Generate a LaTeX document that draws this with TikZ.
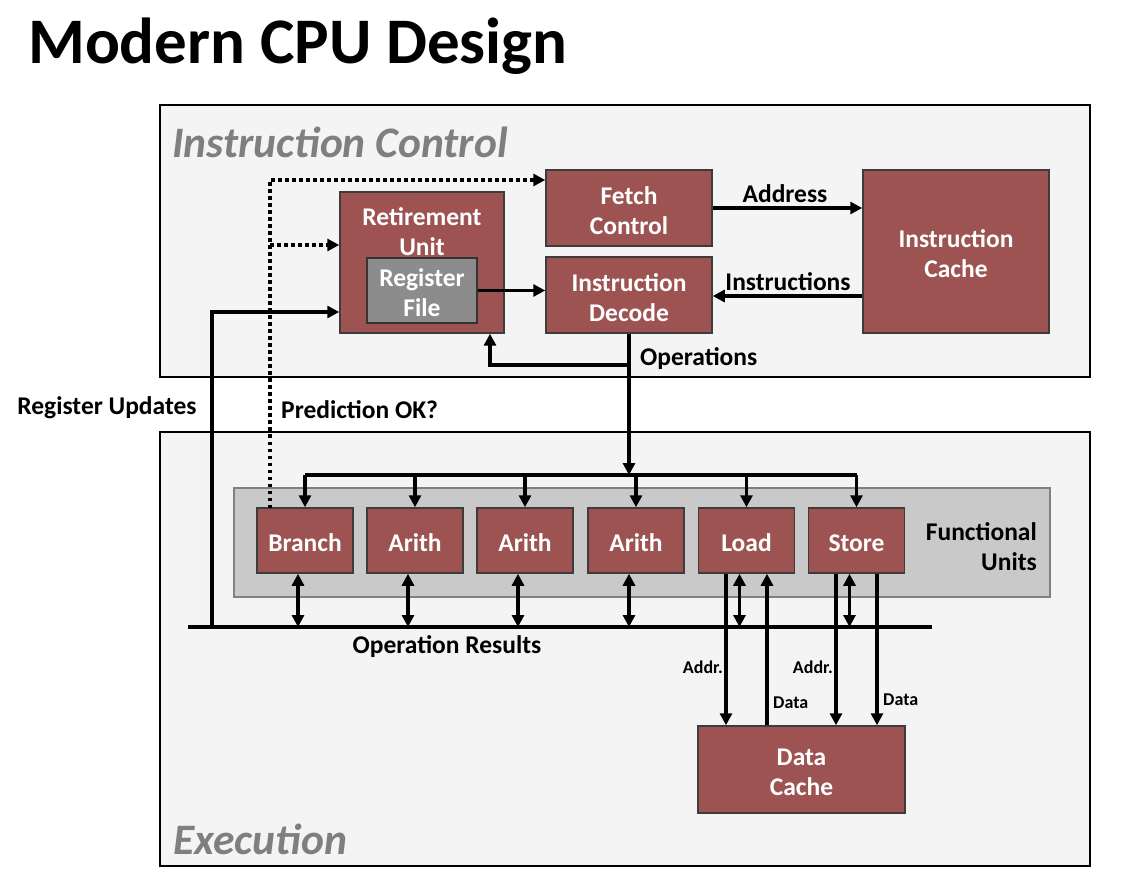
\documentclass[tikz,border=0pt]{standalone}
\usepackage{fontspec}
\setmainfont{Carlito}
\usetikzlibrary{arrows.meta}
\definecolor{maroon}{RGB}{158,83,83}
\definecolor{boxedge}{RGB}{60,60,60}
\definecolor{regfill}{RGB}{140,140,140}
\definecolor{fufill}{RGB}{201,201,201}
\definecolor{fuedge}{RGB}{128,128,128}
\definecolor{panel}{RGB}{244,244,244}
\definecolor{paneltext}{RGB}{127,127,127}
\tikzset{
  boxtext/.style={text=white, font=\bfseries\fontsize{25.5}{30}\selectfont, align=center, inner sep=0pt, yshift=-2.5pt},
  unitbox/.style={draw=boxedge, line width=1.5pt, fill=maroon, inner sep=0pt},
  panelbox/.style={draw=black, line width=2.5pt, fill=panel},
  conn/.style={line width=3.5pt, -{Triangle[length=12pt,width=12pt]}},
  biconn/.style={line width=3.5pt, {Triangle[length=12pt,width=12pt]}-{Triangle[length=12pt,width=12pt]}},
  plain/.style={line width=3.5pt},
  dotconn/.style={line width=3.5pt, dash pattern=on 3.5pt off 3.5pt, -{Triangle[length=12pt,width=12pt]}},
  lbl/.style={font=\bfseries\fontsize{25.5}{30}\selectfont, inner sep=0pt, yshift=-2.5pt},
  smalllbl/.style={font=\bfseries\fontsize{18}{21}\selectfont, inner sep=0pt, yshift=-1.5pt},
  paneltitle/.style={font=\bfseries\itshape\fontsize{43.5}{50}\selectfont, text=paneltext, inner sep=0pt},
}
\begin{document}
\begin{tikzpicture}[x=1pt,y=-1pt]
\useasboundingbox[fill=white] (0,0) rectangle (1128,885);
% title
\node[anchor=west, inner sep=0pt, font=\bfseries\fontsize{65}{74}\selectfont] (title) at (28,46) {Modern CPU Design};
% panels
\draw[panelbox] (160,105) rectangle (1090,377);
\draw[panelbox] (160,432) rectangle (1090,866);
\node[paneltitle, anchor=west] (ictitle) at (172,142) {Instruction Control};
\node[paneltitle, anchor=west] (extitle) at (173,839) {Execution};
% instruction control boxes
\node[unitbox, minimum width=166pt, minimum height=76pt] (fetch) at (629,208) {};
\node[boxtext] (fetchtext) at (fetch) {Fetch\\Control};
\node[unitbox, minimum width=166pt, minimum height=76pt] (decode) at (629,295) {};
\node[boxtext] (decodetext) at (decode) {Instruction\\Decode};
\node[unitbox, minimum width=164pt, minimum height=141pt] (retire) at (422,262.5) {};
\node[boxtext] (retiretext) at (422,229) {Retirement\\Unit};
\node[unitbox, fill=regfill, draw=black!80, minimum width=110pt, minimum height=65pt] (regfile) at (422,290.5) {};
\node[boxtext] (regfiletext) at (regfile) {Register\\File};
\node[unitbox, minimum width=186pt, minimum height=163pt] (icache) at (956,251.5) {};
\node[boxtext] (icachetext) at (icache) {Instruction\\Cache};
% functional units
\draw[draw=fuedge, line width=1.5pt, fill=fufill] (234,488) rectangle (1050,597);
\node[lbl, align=right, anchor=east] (fulabel) at (1037,544) {Functional\\Units};
\foreach \u/\x/\t in {branch/305/Branch, arithA/415/Arith, arithB/525/Arith, arithC/636/Arith, load/746.5/Load, store/856.5/Store}{
  \node[unitbox, minimum width=96pt, minimum height=65pt] (\u) at (\x,540.5) {};
  \node[boxtext] (\u text) at (\u) {\t};
}
\node[unitbox, minimum width=207pt, minimum height=87pt] (dcache) at (801.5,769.5) {};
\node[boxtext] (dcachetext) at (dcache) {Data\\Cache};
% coordinates
\coordinate (tb) at (0,475);
\coordinate (ob) at (0,627);
\coordinate (obL) at (188,627);
\coordinate (obR) at (932,627);
\coordinate (dotTop) at (270,180);
\coordinate (dotMid) at (270,245);
\coordinate (dotBot) at (270,508);
\coordinate (ru) at (212,312);
\coordinate (ruBot) at (212,627);
\coordinate (fb) at (490,365);
\coordinate (ins) at (0,296);
\coordinate (la) at (726,0);
\coordinate (ld) at (767,0);
\coordinate (sa) at (836,0);
\coordinate (sd) at (877,0);
% instruction control connectors
\draw[conn] (fetch.east) -- (fetch.east -| icache.west);
\node[lbl] (addrlbl) at (785,191) {Address};
\draw[conn] (icache.west |- ins) -- (decode.east |- ins);
\node[lbl] (instrlbl) at (788,279.5) {Instructions};
\draw[conn] (regfile.east) -- (regfile.east -| decode.west);
\draw[conn] (decode.south) -- (decode.south |- tb);
\draw[conn] (decode.south |- fb) -- (fb) -- (fb |- retire.south);
\node[lbl, anchor=west] (opslbl) at (640,356) {Operations};
% dotted prediction
\draw[dotconn] (dotBot) -- (dotTop) -- (dotTop -| fetch.west);
\draw[dotconn] (dotMid) -- (dotMid -| retire.west);
\node[lbl, anchor=west] (predlbl) at (281,407) {Prediction OK?};
% register updates
\draw[conn] (ruBot) -- (ru) -- (ru -| retire.west);
\node[lbl] (reglbl) at (107,405) {Register Updates};
% top bus
\draw[plain] (branch.north |- tb) -- (store.north |- tb);
\foreach \u in {branch,arithA,arithB,arithC,load,store}
  \draw[conn] (\u.north |- tb) -- (\u.north);
% operation results bus
\draw[line width=4.5pt] (obL) -- (obR);
\node[lbl] (oplbl) at (447,644) {Operation Results};
\foreach \u in {branch,arithA,arithB,arithC,load,store}
  \draw[biconn] ([xshift=-7pt]\u.south) -- ([xshift=-7pt]\u.south |- ob);
% memory
\draw[conn] (la |- load.south) -- (la |- dcache.north);
\draw[conn] (ld |- dcache.north) -- (ld |- load.south);
\draw[conn] (sa |- store.south) -- (sa |- dcache.north);
\draw[conn] (sd |- store.south) -- (sd |- dcache.north);
\node[smalllbl, anchor=east] (la1) at (723,666) {Addr.};
\node[smalllbl, anchor=west] (ld1) at (773,701) {Data};
\node[smalllbl, anchor=east] (sa1) at (833,666) {Addr.};
\node[smalllbl, anchor=west] (sd1) at (883,698) {Data};
\end{tikzpicture}
\end{document}
